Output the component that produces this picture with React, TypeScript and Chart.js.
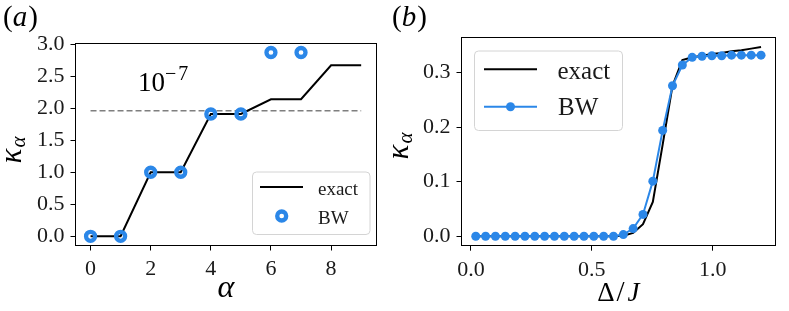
import React, { useEffect, useRef } from "react";
import { Chart, registerables } from "chart.js";

Chart.register(...registerables);

const SERIF = '"Liberation Serif", "DejaVu Serif", serif';
const BLUE = "#2b87e8";

// ---------- panel (a) ----------
const alphaValues = [0, 1, 2, 3, 4, 5, 6, 7, 8, 9];
const exactKappaA = [0, 0, 1, 1, 1.91, 1.91, 2.14, 2.14, 2.67, 2.67];
const bwAlphaValues = [0, 1, 2, 3, 4, 5, 6, 7];
const bwKappaA = [0, 0, 1, 1, 1.91, 1.91, 2.87, 2.87];
const thresholdX = [0, 9];
const thresholdLevel = 1.96;
const xTicksA = [0, 2, 4, 6, 8];
const yTicksA = [0, 0.5, 1.0, 1.5, 2.0, 2.5, 3.0];
const annotationBase = "10";
const annotationExp = "7";

// ---------- panel (b) ----------
const deltaOverJ = [
  0.02, 0.0607, 0.1014, 0.1421, 0.1828, 0.2234, 0.2641, 0.3048, 0.3455, 0.3862,
  0.4269, 0.4676, 0.5083, 0.549, 0.5897, 0.6303, 0.671, 0.7117, 0.7524, 0.7931,
  0.8338, 0.8745, 0.9152, 0.9559, 0.9966, 1.0372, 1.0779, 1.1186, 1.1593, 1.2,
];
const exactKappaB = [
  0, 0, 0, 0, 0, 0, 0, 0, 0, 0,
  0, 0, 0, 0, 0, 0.001, 0.006, 0.022, 0.063, 0.168,
  0.276, 0.323, 0.328, 0.331, 0.334, 0.336, 0.339, 0.341, 0.344, 0.347,
];
const bwKappaB = [
  0, 0, 0, 0, 0, 0, 0, 0, 0, 0,
  0, 0, 0, 0, 0, 0.003, 0.014, 0.04, 0.101, 0.194,
  0.276, 0.314, 0.328, 0.33, 0.331, 0.331, 0.332, 0.332, 0.332, 0.332,
];
const xTicksB = [0, 0.5, 1.0];
const yTicksB = [0, 0.1, 0.2, 0.3];

const seriesLabels = ["exact", "BW"];

// ---------- helpers ----------
type Run = { t: string; font: string; dx?: number; dy?: number };

function drawRuns(ctx: CanvasRenderingContext2D, runs: Run[], x: number, y: number, align: "left" | "center", color = "#000") {
  ctx.save();
  ctx.fillStyle = color;
  ctx.textBaseline = "alphabetic";
  ctx.textAlign = "left";
  const widths = runs.map((r) => {
    ctx.font = r.font;
    return ctx.measureText(r.t).width + (r.dx || 0);
  });
  const total = widths.reduce((a, b) => a + b, 0);
  let cx = align === "center" ? x - total / 2 : x;
  runs.forEach((r, i) => {
    ctx.font = r.font;
    ctx.fillText(r.t, cx + (r.dx || 0), y + (r.dy || 0));
    cx += widths[i];
  });
  ctx.restore();
}

function drawRunsRotated(ctx: CanvasRenderingContext2D, runs: Run[], baselineX: number, cy: number) {
  ctx.save();
  ctx.translate(baselineX, cy);
  ctx.rotate(-Math.PI / 2);
  drawRuns(ctx, runs, 0, 0, "center");
  ctx.restore();
}

function align(p: number) {
  return Math.round(p - 0.5) + 0.5;
}

function drawFrame(ctx: CanvasRenderingContext2D, ca: any) {
  ctx.save();
  ctx.strokeStyle = "#000";
  ctx.lineWidth = 1;
  const l = align(ca.left), r = align(ca.right), t = align(ca.top), b = align(ca.bottom);
  ctx.strokeRect(l, t, r - l, b - t);
  ctx.restore();
}

function legendBox(ctx: CanvasRenderingContext2D, x: number, y: number, w: number, h: number) {
  ctx.save();
  ctx.beginPath();
  ctx.roundRect(x + 0.5, y + 0.5, w, h, 4);
  ctx.fillStyle = "rgba(255,255,255,0.8)";
  ctx.fill();
  ctx.strokeStyle = "#d4d4d4";
  ctx.lineWidth = 1;
  ctx.stroke();
  ctx.restore();
}

function scale(ticks: number[], min: number, max: number, pos: "left" | "bottom", size: number, fmt: (v: number) => string) {
  return {
    type: "linear",
    position: pos,
    min,
    max,
    afterBuildTicks: (s: any) => {
      s.ticks = ticks.map((v) => ({ value: v }));
    },
    afterFit: (s: any) => {
      if (pos === "left") s.width = size;
      else s.height = size;
    },
    grid: { display: true, drawOnChartArea: false, drawTicks: true, tickLength: 5, tickColor: "#000", tickWidth: 1 },
    border: { display: false },
    ticks: {
      color: "#1a1a1a",
      font: { family: SERIF, size: 22 },
      padding: 6,
      maxRotation: 0,
      autoSkip: false,
      callback: (v: any) => fmt(Number(v)),
    },
  };
}

function configA(): any {
  const deco = {
    id: "decoA",
    afterDraw(chart: any) {
      const ctx = chart.ctx as CanvasRenderingContext2D;
      const ca = chart.chartArea;
      drawFrame(ctx, ca);
      const ds = chart.data.datasets;
      // panel label
      drawRuns(ctx, [
        { t: "(", font: `29px ${SERIF}` },
        { t: "a", font: `italic 29px ${SERIF}` },
        { t: ")", font: `29px ${SERIF}`, dx: 1 },
      ], 3, 26, "left");
      // annotation 10^-7
      drawRuns(ctx, [
        { t: annotationBase, font: `27px ${SERIF}` },
        { t: "\u2212", font: `20px ${SERIF}`, dy: -11, dx: 0 },
        { t: annotationExp, font: `20px ${SERIF}`, dy: -11, dx: 2 },
      ], 138, 91, "left");
      // axis labels
      drawRuns(ctx, [{ t: "\u03b1", font: `italic 32px ${SERIF}` }], (ca.left + ca.right) / 2, 297, "center");
      drawRunsRotated(ctx, [
        { t: "\u03ba", font: `italic 31px ${SERIF}` },
        { t: "\u03b1", font: `italic 21px ${SERIF}`, dy: 4, dx: 1 },
      ], 21, 150);
      // legend
      legendBox(ctx, 252, 171.5, 117.5, 62.5);
      ctx.save();
      ctx.strokeStyle = ds[0].borderColor;
      ctx.lineWidth = 2;
      ctx.beginPath();
      ctx.moveTo(260, 187);
      ctx.lineTo(303, 187);
      ctx.stroke();
      ctx.beginPath();
      ctx.arc(281.7, 216, 4.5, 0, Math.PI * 2);
      ctx.strokeStyle = ds[1].pointBorderColor;
      ctx.lineWidth = 4.3;
      ctx.stroke();
      ctx.restore();
      drawRuns(ctx, [{ t: ds[0].label, font: `19px ${SERIF}` }], 318, 194.5, "left", "#1a1a1a");
      drawRuns(ctx, [{ t: ds[1].label, font: `19px ${SERIF}` }], 318, 223.5, "left", "#1a1a1a");
    },
  };
  return {
    type: "scatter",
    data: {
      datasets: [
        {
          label: seriesLabels[0],
          data: alphaValues.map((x, i) => ({ x, y: exactKappaA[i] })),
          showLine: true,
          borderColor: "#000",
          borderWidth: 2,
          pointRadius: 0,
          order: 1,
        },
        {
          label: seriesLabels[1],
          data: bwAlphaValues.map((x, i) => ({ x, y: bwKappaA[i] })),
          showLine: false,
          pointRadius: 4.5,
          pointBorderWidth: 4.3,
          pointBorderColor: BLUE,
          pointBackgroundColor: "rgba(0,0,0,0)",
          borderColor: BLUE,
          order: 0,
        },
        {
          label: "threshold",
          data: thresholdX.map((x) => ({ x, y: thresholdLevel })),
          showLine: true,
          borderColor: "#7f7f7f",
          borderWidth: 1.5,
          borderDash: [6, 3],
          pointRadius: 0,
          order: 2,
        },
      ],
    },
    options: {
      animation: false,
      responsive: false,
      devicePixelRatio: 1,
      layout: { padding: { left: 0, top: 43.3, right: 4, bottom: 0 } },
      plugins: { legend: { display: false }, tooltip: { enabled: false } },
      scales: {
        x: scale(xTicksA, -0.5, 9.5, "bottom", 65.5, (v) => String(v)),
        y: scale(yTicksA, -0.144, 3.014, "left", 75.5, (v) => v.toFixed(1)),
      },
    },
    plugins: [deco],
  };
}

function configB(): any {
  const deco = {
    id: "decoB",
    afterDraw(chart: any) {
      const ctx = chart.ctx as CanvasRenderingContext2D;
      const ca = chart.chartArea;
      drawFrame(ctx, ca);
      const ds = chart.data.datasets;
      drawRuns(ctx, [
        { t: "(", font: `29px ${SERIF}` },
        { t: "b", font: `italic 29px ${SERIF}` },
        { t: ")", font: `29px ${SERIF}`, dx: 1 },
      ], 7, 26, "left");
      drawRuns(ctx, [
        { t: "\u0394", font: `27px ${SERIF}` },
        { t: "/", font: `29px ${SERIF}`, dx: 2 },
        { t: "J", font: `italic 27px ${SERIF}`, dx: 3 },
      ], (ca.left + ca.right) / 2, 301, "center");
      drawRunsRotated(ctx, [
        { t: "\u03ba", font: `italic 31px ${SERIF}` },
        { t: "\u03b1", font: `italic 21px ${SERIF}`, dy: 4, dx: 1 },
      ], 23, 146);
      // legend
      legendBox(ctx, 89, 50.5, 148, 79.5);
      ctx.save();
      ctx.lineWidth = 2;
      ctx.strokeStyle = ds[0].borderColor;
      ctx.beginPath();
      ctx.moveTo(99, 69.3);
      ctx.lineTo(152, 69.3);
      ctx.stroke();
      ctx.strokeStyle = ds[1].borderColor;
      ctx.beginPath();
      ctx.moveTo(99, 106.7);
      ctx.lineTo(152, 106.7);
      ctx.stroke();
      ctx.fillStyle = ds[1].pointBackgroundColor;
      ctx.beginPath();
      ctx.arc(125.5, 106.7, 4.5, 0, Math.PI * 2);
      ctx.fill();
      ctx.restore();
      drawRuns(ctx, [{ t: ds[0].label, font: `25px ${SERIF}` }], 172.5, 79.3, "left", "#1a1a1a");
      drawRuns(ctx, [{ t: ds[1].label, font: `25px ${SERIF}` }], 173, 115, "left", "#1a1a1a");
    },
  };
  return {
    type: "scatter",
    data: {
      datasets: [
        {
          label: seriesLabels[0],
          data: deltaOverJ.map((x, i) => ({ x, y: exactKappaB[i] })),
          showLine: true,
          borderColor: "#000",
          borderWidth: 2,
          pointRadius: 0,
          order: 1,
        },
        {
          label: seriesLabels[1],
          data: deltaOverJ.map((x, i) => ({ x, y: bwKappaB[i] })),
          showLine: true,
          borderColor: BLUE,
          borderWidth: 2,
          pointRadius: 4.5,
          pointBorderWidth: 0,
          pointBackgroundColor: BLUE,
          order: 0,
        },
      ],
    },
    options: {
      animation: false,
      responsive: false,
      devicePixelRatio: 1,
      layout: { padding: { left: 0, top: 37.5, right: 13.7, bottom: 0 } },
      plugins: { legend: { display: false }, tooltip: { enabled: false } },
      scales: {
        x: scale(xTicksB, -0.039, 1.259, "bottom", 65.3, (v) => v.toFixed(1)),
        y: scale(yTicksB, -0.01735, 0.3644, "left", 76.5, (v) => v.toFixed(1)),
      },
    },
    plugins: [deco],
  };
}

export default function App() {
  const refA = useRef<HTMLCanvasElement>(null);
  const refB = useRef<HTMLCanvasElement>(null);
  useEffect(() => {
    const a = new Chart(refA.current as HTMLCanvasElement, configA());
    const b = new Chart(refB.current as HTMLCanvasElement, configB());
    return () => {
      a.destroy();
      b.destroy();
    };
  }, []);
  return (
    <div style={{ position: "fixed", left: 0, top: 0, width: 789, height: 311, background: "#fff" }}>
      <canvas ref={refA} width={385} height={311} style={{ position: "absolute", left: 0, top: 0, width: 385, height: 311 }} />
      <canvas ref={refB} width={404} height={311} style={{ position: "absolute", left: 385, top: 0, width: 404, height: 311 }} />
    </div>
  );
}
